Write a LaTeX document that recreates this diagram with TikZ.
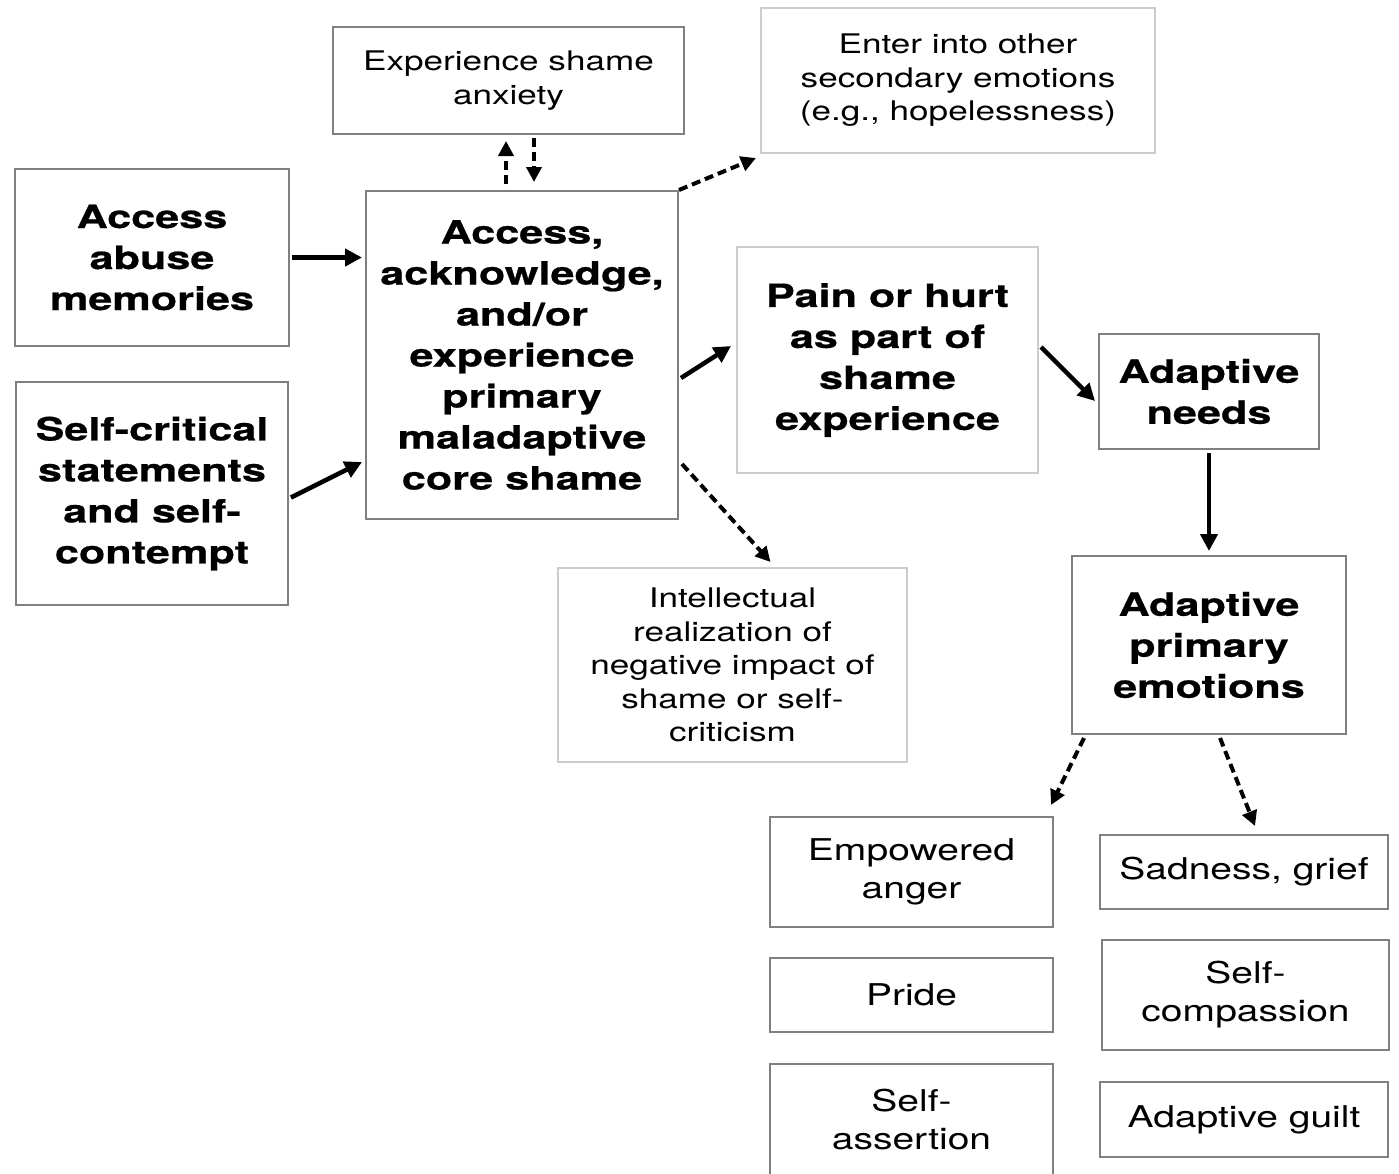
\documentclass[tikz,border=0pt]{standalone}
\usepackage{fontspec}
\setmainfont{TeX Gyre Heros}
\newfontfamily\widereg[FakeStretch=1.3]{TeX Gyre Heros}
\newfontfamily\widebold[FakeStretch=1.35,FakeBold=0.6]{TeX Gyre Heros Bold}
\usetikzlibrary{arrows.meta}
\begin{document}
\begin{tikzpicture}[x=1pt,y=-1pt,
  box/.style={draw=black!50, line width=2pt, align=center, inner sep=0pt},
  lightbox/.style={draw=black!20, line width=2pt, align=center, inner sep=0pt},
  boldtxt/.style={font=\fontsize{32}{41}\widebold},
  smalltxt/.style={font=\fontsize{27}{33.5}\widereg},
  medtxt/.style={font=\fontsize{30}{38}\widereg},
  solidarrow/.style={line width=4.5pt, -{Triangle[length=17pt,width=17pt]}},
  dasharrow/.style={line width=4pt, dash pattern=on 9pt off 5pt, -{Triangle[length=15pt,width=15pt]}}
]
\useasboundingbox (0,0) rectangle (1399,1173);
% boxes
\node[box, smalltxt, minimum width=351, minimum height=107] (shame) at (508.5,80.5) {Experience shame\\anxiety};
\node[lightbox, smalltxt, minimum width=394, minimum height=145] (enter) at (958,80.5) {Enter into other\\secondary emotions\\(e.g., hopelessness)};
\node[box, boldtxt, minimum width=274, minimum height=177] (access) at (152,257.5) {Access\\abuse\\memories};
\node[box, boldtxt, minimum width=272, minimum height=223] (selfcrit) at (152,493.5) {Self-critical\\statements\\and self-\\contempt};
\node[box, boldtxt, minimum width=312, minimum height=328] (central) at (522,355) {Access,\\acknowledge,\\and/or\\experience\\primary\\maladaptive\\core shame};
\node[lightbox, boldtxt, minimum width=301, minimum height=226] (pain) at (887.5,360) {Pain or hurt\\as part of\\shame\\experience};
\node[box, boldtxt, minimum width=220, minimum height=115] (needs) at (1209,391.5) {Adaptive\\needs};
\node[box, boldtxt, minimum width=274, minimum height=178] (primary) at (1209,645) {Adaptive\\primary\\emotions};
\node[lightbox, smalltxt, minimum width=349, minimum height=194] (intel) at (732.5,665) {Intellectual\\realization of\\negative impact of\\shame or self-\\criticism};
\node[box, medtxt, minimum width=283, minimum height=110] (anger) at (911.5,872) {Empowered\\anger};
\node[box, medtxt, minimum width=283, minimum height=74] (pride) at (911.5,995) {Pride};
\node[box, medtxt, minimum width=283, minimum height=112] (assert) at (911.5,1120) {Self-\\assertion};
\node[box, medtxt, minimum width=288, minimum height=74] (sad) at (1244,872) {Sadness, grief};
\node[box, medtxt, minimum width=287, minimum height=110] (compassion) at (1245.5,995) {Self-\\compassion};
\node[box, medtxt, minimum width=288, minimum height=75] (guilt) at (1244,1119.5) {Adaptive guilt};
% connectors
\draw[solidarrow] ([xshift=2pt]access.east) -- ([xshift=-3pt]access.east -| central.west);
\draw[solidarrow] ([xshift=2pt,yshift=-4pt]selfcrit.east) -- ([xshift=-3pt,yshift=-107pt]central.west);
\draw[dasharrow] ([xshift=-16pt,yshift=6pt]central.north) -- ([xshift=-16pt,yshift=-6pt]central.north |- shame.south);
\draw[dasharrow] ([xshift=12pt,yshift=-3pt]central.north |- shame.south) -- ([xshift=12pt,yshift=8pt]central.north);
\draw[dasharrow] (central.north east) -- ([xshift=-4pt,yshift=-4pt]enter.south west);
\draw[solidarrow] ([xshift=2pt,yshift=-23pt]central.east) -- ([xshift=-5pt,yshift=14pt]pain.west);
\draw[dasharrow] ([xshift=3pt,yshift=-109pt]central.east) -- ([xshift=38pt,yshift=5pt]intel.north);
\draw[solidarrow] ([xshift=2pt,yshift=13pt]pain.east) -- ([xshift=-3pt,yshift=-9.5pt]needs.west);
\draw[solidarrow] ([yshift=-3pt]needs.south) -- ([yshift=4pt]primary.north);
\draw[dasharrow] ([xshift=13pt,yshift=-3pt]primary.south west) -- ([xshift=-3pt,yshift=11pt]anger.north east);
\draw[dasharrow] ([xshift=11pt,yshift=-3pt]primary.south) -- ([xshift=11pt,yshift=8pt]sad.north);
\end{tikzpicture}
\end{document}
